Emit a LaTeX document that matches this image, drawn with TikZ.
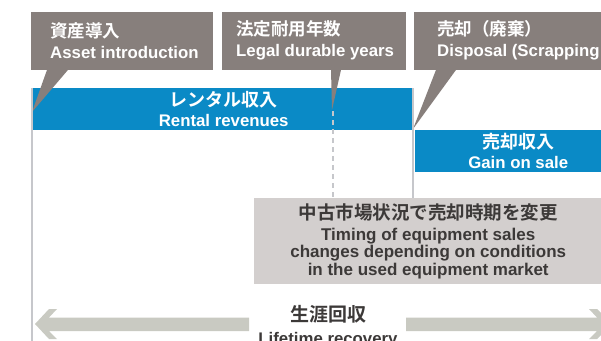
\documentclass[tikz,border=0pt]{standalone}
\usepackage{fontspec}
\setmainfont{Liberation Sans}
\newfontfamily\jp{Noto Sans CJK JP}[BoldFont={Noto Sans CJK JP Bold}]
\usetikzlibrary{calc}
\definecolor{callgray}{HTML}{877F7C}
\definecolor{barblue}{HTML}{0A8AC6}
\definecolor{boxgray}{HTML}{D3CFCE}
\definecolor{arrowgray}{HTML}{C9CAC2}
\definecolor{linegray}{HTML}{C6C7CB}
\definecolor{darktext}{HTML}{3C3938}
\tikzset{
  callbox/.style={fill=callgray, anchor=north west, minimum height=58pt, inner sep=0pt},
  calltext/.style={text=white, anchor=west, align=left, inner sep=0pt,
    font=\bfseries\fontsize{16.8}{21}\selectfont},
  bluebar/.style={fill=barblue, text=white, anchor=north west, minimum height=42pt,
    inner sep=0pt, align=center, font=\bfseries\fontsize{16.8}{20}\selectfont},
  notebox/.style={fill=boxgray, text=darktext, anchor=north west, minimum height=86pt,
    inner sep=0pt, align=center, font=\bfseries\fontsize{17}{17.5}\selectfont},
  vline/.style={draw=linegray, line width=2pt},
  dline/.style={draw=linegray, line width=2pt, dash pattern=on 5pt off 4pt},
  arrowfill/.style={fill=arrowgray}
}
\begin{document}
\begin{tikzpicture}[x=1pt,y=-1pt]
\useasboundingbox (0,0) rectangle (601,340);
\clip (0,0) rectangle (601,340);

% blue bars
\node[bluebar, minimum width=381pt] (rent) at (33,88)
  {{\jp\fontsize{18}{20}\selectfont レンタル収入}\\Rental revenues};
\node[bluebar, minimum width=206pt] (gain) at (415,130)
  {{\jp\fontsize{18}{20}\selectfont 売却収入}\\Gain on sale};

% callout boxes
\node[callbox, minimum width=182pt] (c1) at (31,12) {};
\node[callbox, minimum width=184pt] (c2) at (222,12) {};
\node[callbox, minimum width=200pt] (c3) at (414,12) {};
\node[calltext] (t1) at ([xshift=19pt,yshift=0.5pt]c1.west)
  {{\jp\fontsize{17.5}{21}\selectfont 資産導入}\\Asset introduction};
\node[calltext] (t2) at ([xshift=14pt,yshift=0.5pt]c2.west)
  {{\jp\fontsize{17.5}{21}\selectfont 法定耐用年数}\\Legal durable years};
\node[calltext] (t3) at ([xshift=23pt,yshift=0.5pt]c3.west)
  {{\jp\fontsize{17.5}{21}\selectfont 売却（廃棄）}\\Disposal (Scrapping};

% tails
\coordinate (p1) at (32,112);
\coordinate (p2) at (332,110);
\coordinate (p3) at (413,129);
\fill[callgray] ($(c1.south west)+(16,-0.5)$) -- (p1) -- ($(c1.south west)+(37,-0.5)$) -- cycle;
\fill[callgray] ($(c2.south west)+(109,-0.5)$) -- (p2) -- ($(c2.south west)+(119,-0.5)$) -- cycle;
\fill[callgray] ($(c3.south west)+(22,-0.5)$) -- (p3) -- ($(c3.south west)+(42,-0.5)$) -- cycle;

% note box
\node[notebox, minimum width=348pt] (note) at (254,198)
  {{\jp\fontsize{18.5}{22}\selectfont 中古市場状況で売却時期を変更}\\[3pt]Timing of equipment sales\\changes depending on conditions\\in the used equipment market};

% vertical lines
\coordinate (l1a) at (32,88);
\coordinate (l1b) at (32,341);
\coordinate (l2a) at (413,88);
\coordinate (l2b) at (413,198);
\coordinate (l3a) at (333,111);
\coordinate (l3b) at (333,198);
\draw[vline] (l1a) -- (l1b);
\draw[vline] (l2a) -- (l2b);
\draw[dline] (l3a) -- (l3b);

% lifetime arrow
\fill[arrowfill] (35,324) -- (49,309) -- (57,309) -- (49,317.5) -- (249,317.5)
  -- (249,331) -- (49,331) -- (57,339) -- (49,339) -- cycle;
\fill[arrowfill] (406,317.5) -- (597,317.5) -- (589,309) -- (597,309) -- (612,324)
  -- (597,339) -- (589,339) -- (597,331) -- (406,331) -- cycle;
\node[text=darktext, align=center, inner sep=0pt, font=\bfseries\fontsize{16.8}{23}\selectfont]
  (life) at (328,327) {{\jp\fontsize{19}{23}\selectfont 生涯回収}\\Lifetime recovery};
\end{tikzpicture}
\end{document}
